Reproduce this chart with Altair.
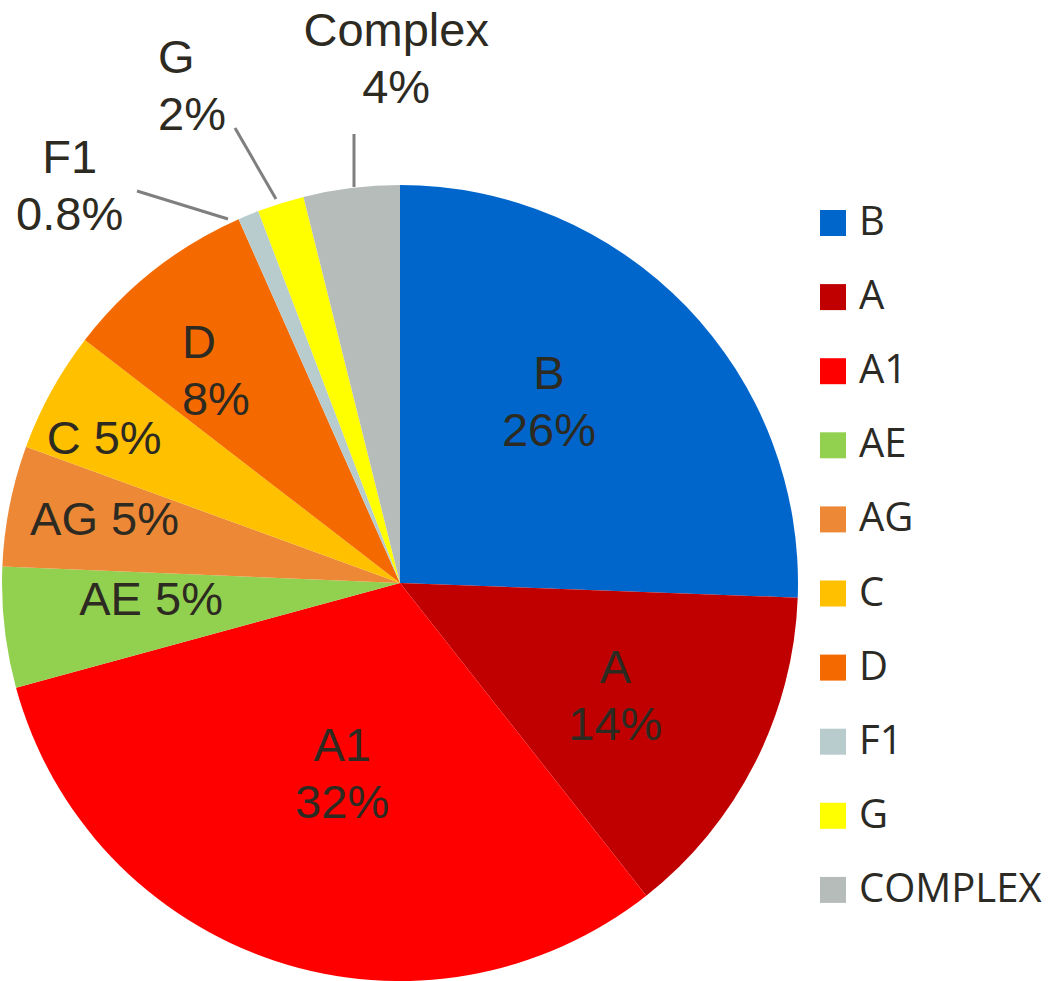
import altair as alt
import pandas as pd

# ---- data ----
CATEGORIES = ["B", "A", "A1", "AE", "AG", "C", "D", "F1", "G", "Complex"]
LEGEND_NAMES = ["B", "A", "A1", "AE", "AG", "C", "D", "F1", "G", "COMPLEX"]
SHARES = [25.6, 13.8, 31.4, 4.9, 4.9, 4.9, 7.9, 0.85, 1.9, 3.9]
PCT_TEXT = ["26%", "14%", "32%", "5%", "5%", "5%", "8%", "0.8%", "2%", "4%"]

# ---- styles / layout ----
COLORS = ["#0066CC", "#C00000", "#FF0000", "#92D050", "#ED8936",
          "#FFC000", "#F46A00", "#B8CCCE", "#FFFF00", "#B5BCB9"]
CX, CY, R = 400, 583, 398
FONT_SIZE, LINE_H = 47, 57
LABEL_SEP = ["\n", "\n", "\n", " ", " ", " ", "\n", "\n", "\n", "\n"]
LABEL_R = [233, 244, 200.6, 249.6, 302, 328.7, 303, 515, 551, 523]
LABEL_NUDGE = [-6.3, 1.1, -1.5, 2.2, 0.7, -3.0, -7.9, -17.5, -8.6, 6.6]
LABEL_ALIGN = ["center"] * 6 + ["left", "center", "left", "center"]
TEXT_COLOR = "#2d2a22"

# leader lines (annotation, pixel positions)
LEAD_X1 = [137, 235, 354]
LEAD_Y1 = [191, 128, 134]
LEAD_X2 = [228, 276, 354]
LEAD_Y2 = [219, 199, 187]

df = pd.DataFrame({
    "cat": CATEGORIES,
    "legend": LEGEND_NAMES,
    "share": SHARES,
    "label": [c + s + p for c, s, p in zip(CATEGORIES, LABEL_SEP, PCT_TEXT)],
    "extra_lines": [1 if s == "\n" else 0 for s in LABEL_SEP],
    "order": list(range(len(CATEGORIES))),
    "lr": LABEL_R,
    "nudge": LABEL_NUDGE,
    "align": LABEL_ALIGN,
})

leaders = pd.DataFrame({"x": LEAD_X1, "y": LEAD_Y1, "x2": LEAD_X2, "y2": LEAD_Y2})

base = alt.Chart(df)

pie = base.mark_arc(stroke=None).encode(
    theta=alt.Theta("share:Q", stack=True),
    order=alt.Order("order:Q"),
    color=alt.Color(
        "legend:N",
        scale=alt.Scale(domain=LEGEND_NAMES, range=COLORS),
        legend=alt.Legend(
            title=None, orient="none", legendX=813, legendY=203,
            symbolType="square", symbolSize=676, symbolStrokeWidth=0,
            labelFont="Open Sans", labelFontSize=40, labelColor="#2b2a25",
            labelOffset=6, rowPadding=34.1, padding=0, labelLimit=400,
        ),
    ),
    x=alt.value(CX),
    y=alt.value(CY),
    radius=alt.value(R),
)

lab = base.transform_joinaggregate(
    total="sum(share)"
).transform_window(
    cum="sum(share)", sort=[alt.SortField("order")], frame=[None, 0]
).transform_calculate(
    mid="(datum.cum - datum.share/2)/datum.total*2*PI + datum.nudge*PI/180"
).transform_calculate(
    lx=f"{CX} + datum.lr*sin(datum.mid)",
    ly=f"{CY} - datum.lr*cos(datum.mid) - datum.extra_lines*{LINE_H}/2",
)

def text_layer(align):
    return lab.transform_filter(alt.datum.align == align).mark_text(
        align=align, baseline="middle", lineBreak="\n", fontSize=FONT_SIZE,
        lineHeight=LINE_H, font="Liberation Sans", color=TEXT_COLOR,
    ).encode(
        x=alt.X("lx:Q", scale=None),
        y=alt.Y("ly:Q", scale=None),
        text="label:N",
    )

rules = alt.Chart(leaders).mark_rule(color="#7f7f7f", strokeWidth=3).encode(
    x=alt.X("x:Q", scale=None), y=alt.Y("y:Q", scale=None),
    x2="x2:Q", y2="y2:Q",
)

chart = alt.layer(pie, rules, text_layer("center"), text_layer("left")).properties(
    width=1055, height=981, padding=0, autosize="none",
).configure_view(stroke=None)

chart.save("out.html", embed_options={"renderer": "svg", "actions": False})
